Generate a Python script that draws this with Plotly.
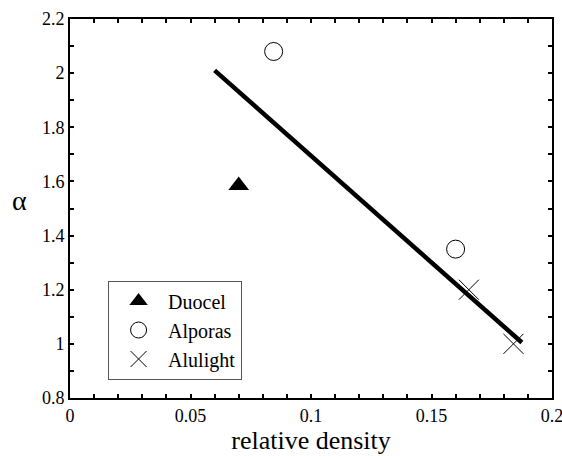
import plotly.graph_objects as go

duocel_x = [0.070]
duocel_y = [1.585]
alporas_x = [0.0845, 0.160]
alporas_y = [2.08, 1.35]
alulight_x = [0.1655, 0.184]
alulight_y = [1.20, 1.00]
fit_x = [0.060, 0.1875]
fit_y = [2.01, 1.005]

FONT = "Liberation Serif, Times New Roman, serif"

fig = go.Figure()
fig.add_trace(go.Scatter(x=duocel_x, y=duocel_y, mode="markers", name="Duocel",
                         marker=dict(symbol="triangle-up", size=18, color="black")))
fig.add_trace(go.Scatter(x=alporas_x, y=alporas_y, mode="markers", name="Alporas",
                         marker=dict(symbol="circle-open", size=18, color="black",
                                     line=dict(width=1, color="black"))))
fig.add_trace(go.Scatter(x=alulight_x, y=alulight_y, mode="markers", name="Alulight",
                         marker=dict(symbol="x-thin-open", size=20, color="black",
                                     line=dict(width=1, color="black"))))
fig.add_trace(go.Scatter(x=fit_x, y=fit_y, mode="lines", showlegend=False,
                         line=dict(color="black", width=4.5)))

axis_common = dict(showline=True, linecolor="black", linewidth=2, mirror="ticks",
                   ticks="inside", ticklen=4, tickwidth=2, tickcolor="black",
                   showgrid=False, zeroline=False, automargin=False,
                   ticklabeloverflow="allow",
                   tickfont=dict(family=FONT, size=18, color="black"))

fig.update_xaxes(range=[0, 0.2], tickvals=[0, 0.05, 0.1, 0.15, 0.2],
                 ticktext=["0", "0.05", "0.1", "0.15", "0.2"],
                 ticklabelstandoff=0,
                 minor=dict(dtick=0.01, tick0=0, ticks="inside", ticklen=4, tickwidth=2, tickcolor="black"),
                 title=dict(text="relative density", font=dict(family=FONT, size=26, color="black"), standoff=0),
                 **axis_common)
fig.update_yaxes(range=[0.8, 2.2], tickvals=[0.8, 1, 1.2, 1.4, 1.6, 1.8, 2, 2.2],
                 ticktext=["0.8", "1", "1.2", "1.4", "1.6", "1.8", "2", "2.2"],
                 minor=dict(dtick=0.1, tick0=0.8, ticks="inside", ticklen=4, tickwidth=2, tickcolor="black"),
                 **axis_common)

fig.add_annotation(text="α", xref="paper", yref="paper", x=-0.104, y=0.522,
                   showarrow=False, font=dict(family=FONT, size=28, color="black"),
                   xanchor="center", yanchor="middle")

fig.update_layout(
    width=562, height=456,
    margin=dict(l=70, r=10, t=19, b=58),
    plot_bgcolor="white", paper_bgcolor="white",
    legend=dict(x=0.079, y=0.31, xanchor="left", yanchor="top",
                bgcolor="white", bordercolor="#555", borderwidth=1,
                font=dict(family=FONT, size=20, color="black"),
                itemwidth=49, tracegroupgap=0),
)

fig.write_html("out.html", config={"displayModeBar": False},
               post_script="document.body.style.margin='0';document.body.style.overflow='hidden';")
